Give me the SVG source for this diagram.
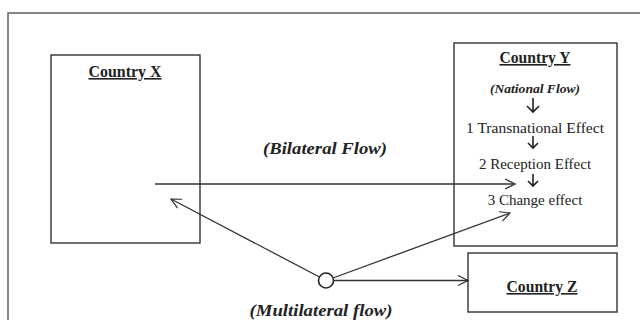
<svg xmlns="http://www.w3.org/2000/svg" width="640" height="320" viewBox="0 0 640 320">
<style>
  .box{fill:none;stroke:#333;stroke-width:1.4}
  .frame{fill:none;stroke:#666;stroke-width:1.6}
  .title{font-family:"Liberation Serif","Times New Roman",serif;font-weight:bold;font-size:16px;fill:#222;text-anchor:middle;text-decoration:underline}
  .lbl{font-family:"Liberation Serif","Times New Roman",serif;font-weight:bold;font-style:italic;fill:#222;text-anchor:middle}
  .txt{font-family:"Liberation Serif","Times New Roman",serif;font-size:15px;fill:#222;text-anchor:middle}
  .conn{fill:none;stroke:#333;stroke-width:1.3}
  .dn{fill:none;stroke:#222;stroke-width:1.6}
</style>
<defs>
  <marker id="open" viewBox="0 0 12 12" refX="11" refY="6" markerWidth="12" markerHeight="12" markerUnits="userSpaceOnUse" orient="auto">
    <path d="M1,1 L11,6 L1,11" fill="none" stroke="#333" stroke-width="1.2"/>
  </marker>
</defs>
<rect width="640" height="320" fill="#fff"/>
<rect class="frame" x="8" y="13" width="640" height="330"/>

<g id="countryX">
  <rect class="box" x="51" y="55" width="149" height="188"/>
  <text class="title" x="125" y="77" textLength="73" lengthAdjust="spacingAndGlyphs">Country X</text>
</g>

<g id="countryY">
  <rect class="box" x="454" y="43" width="163" height="203"/>
  <text class="title" x="535" y="63" textLength="71" lengthAdjust="spacingAndGlyphs">Country Y</text>
  <text class="lbl" x="535" y="93" font-size="12" textLength="90" lengthAdjust="spacingAndGlyphs">(National Flow)</text>
  <path class="dn" d="M533,98 V112 M527,106 L533,112 L539,106"/>
  <text class="txt" x="535" y="133" textLength="138" lengthAdjust="spacingAndGlyphs">1 Transnational Effect</text>
  <path class="dn" d="M533,136 V148 M528,143 L533,148 L538,143" stroke-width="1.3"/>
  <text class="txt" x="535" y="169">2 Reception Effect</text>
  <path class="dn" d="M533,174 V186 M528,181 L533,186 L538,181" stroke-width="1.3"/>
  <text class="txt" x="535" y="205">3 Change effect</text>
</g>

<g id="countryZ">
  <rect class="box" x="468" y="253" width="149" height="59"/>
  <text class="title" x="542" y="292" textLength="71" lengthAdjust="spacingAndGlyphs">Country Z</text>
</g>

<g id="hub">
  <circle cx="326" cy="280.5" r="7.5" fill="#fff" stroke="#222" stroke-width="1.6"/>
</g>

<g id="connectors">
  <line class="conn" x1="155" y1="184" x2="515" y2="184" marker-end="url(#open)"/>
  <line class="conn" x1="319.4" y1="277" x2="171" y2="199" marker-end="url(#open)"/>
  <line class="conn" x1="333" y1="278" x2="510" y2="213" marker-end="url(#open)"/>
  <line class="conn" x1="333.5" y1="280.5" x2="468" y2="280.5" marker-end="url(#open)"/>
</g>

<g id="labels">
  <text class="lbl" x="325" y="154" font-size="17" textLength="124" lengthAdjust="spacingAndGlyphs">(Bilateral Flow)</text>
  <text class="lbl" x="321" y="316" font-size="16" textLength="143" lengthAdjust="spacingAndGlyphs">(Multilateral flow)</text>
</g>
</svg>
